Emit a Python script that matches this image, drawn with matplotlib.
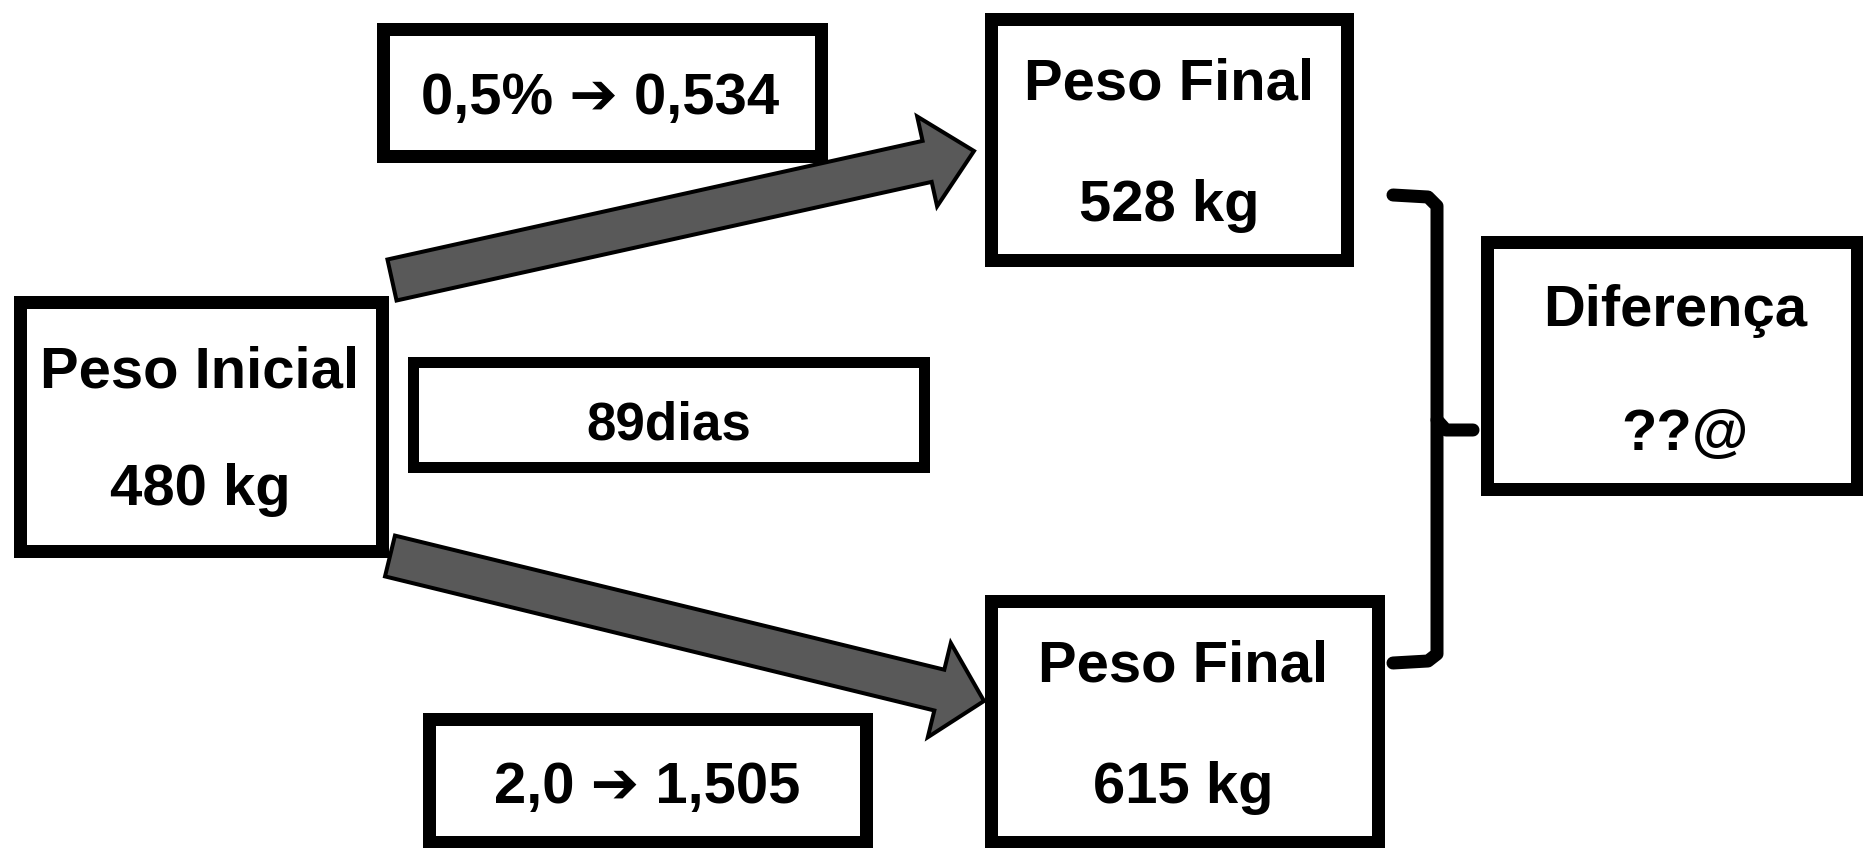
import matplotlib
matplotlib.use("Agg")
from matplotlib import pyplot as plt
from matplotlib.patches import Rectangle, FancyArrow

# textos do diagrama
titulos = ["Peso Inicial", "Peso Final", "Peso Final", "Diferença"]
valores = ["480 kg", "528 kg", "615 kg", "??@"]
taxas = ["0,5% \u2794 0,534", "2,0 \u2794 1,505"]
periodo = "89dias"

W, H = 1863, 848
fig = plt.figure(figsize=(W / 100, H / 100), dpi=100)
ax = fig.add_axes([0, 0, 1, 1])
ax.set_xlim(0, W)
ax.set_ylim(H, 0)
ax.axis("off")

fonte = ["Liberation Sans", "DejaVu Sans"]
px = 72 / 100  # pixel -> pt


def caixa(x0, y0, x1, y1, lw=13):
    ax.add_patch(Rectangle((x0 + lw / 2, y0 + lw / 2), x1 - x0 - lw, y1 - y0 - lw,
                           fill=False, edgecolor="black", linewidth=lw * px,
                           joinstyle="miter", clip_on=False))


def texto(x, y, s, tam=58):
    ax.text(x, y, s, ha="center", va="center", fontsize=tam * px,
            fontweight="bold", family=fonte, color="black")


def seta(x0, y0, x1, y1, largura, cab_larg, cab_comp):
    ax.add_patch(FancyArrow(x0, y0, x1 - x0, y1 - y0, width=largura,
                            head_width=cab_larg, head_length=cab_comp,
                            length_includes_head=True, facecolor="#595959",
                            edgecolor="black", linewidth=4 * px))


# caixas principais
caixa(13, 295, 388, 557)
caixa(984, 12, 1353, 266)
caixa(984, 594, 1384, 848)
caixa(1480, 235, 1863, 495)
# caixas auxiliares
caixa(376, 22, 827, 162)
caixa(407, 356, 929, 472, lw=11)
caixa(422, 712, 872, 848)

# setas
seta(392, 280, 974, 151, 42, 92, 48)
seta(390, 556, 984, 701, 42, 97, 46)

# chave
lw_ch = 13 * px
ax.plot([1393, 1428, 1437, 1437, 1428, 1393], [195, 197, 206, 654, 661, 663],
        color="black", linewidth=lw_ch, solid_capstyle="round",
        solid_joinstyle="round")
ax.plot([1437, 1446, 1473], [420, 430, 430], color="black", linewidth=lw_ch,
        solid_capstyle="round", solid_joinstyle="round")

# textos
texto(200, 372, titulos[0])
texto(200, 490, valores[0])
texto(1169, 84, titulos[1])
texto(1169, 206, valores[1])
texto(1183, 667, titulos[2])
texto(1183, 788, valores[2])
texto(1675, 311, titulos[3])
texto(1685, 435, valores[3])
texto(600, 99, taxas[0])
texto(647, 788, taxas[1])
texto(669, 425, periodo, tam=53)

fig.savefig("out.png", dpi=100, facecolor="white")
